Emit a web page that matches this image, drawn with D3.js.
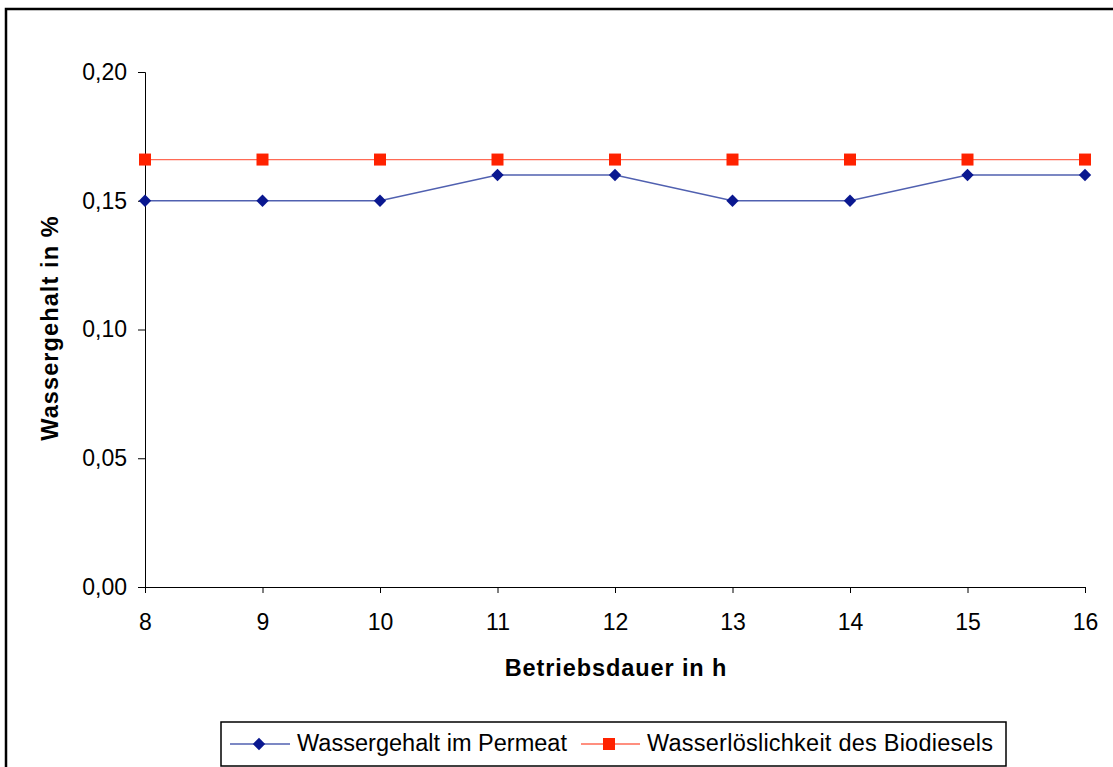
<!DOCTYPE html>
<html><head><meta charset="utf-8">
<script src="https://cdn.jsdelivr.net/npm/d3@7"></script>
<style>body{margin:0;background:#fff}svg{display:block}text{font-family:"Liberation Sans",Arial,sans-serif}</style>
</head><body><svg id="c" width="1113" height="767"></svg>
<script>
const hours = [8, 9, 10, 11, 12, 13, 14, 15, 16];
const permeat = [0.15, 0.15, 0.15, 0.16, 0.16, 0.15, 0.15, 0.16, 0.16];
const loeslichkeit = [0.166, 0.166, 0.166, 0.166, 0.166, 0.166, 0.166, 0.166, 0.166];
const yTicks = [0, 0.05, 0.10, 0.15, 0.20];
const seriesNames = ["Wassergehalt im Permeat", "Wasserlöslichkeit des Biodiesels"];

const svg = d3.select("#c");
svg.append("rect").attr("x",6).attr("y",9).attr("width",1120).attr("height",780)
  .attr("fill","#fff").attr("stroke","#000").attr("stroke-width",2.5);

const x = d3.scaleLinear().domain([8,16]).range([145,1085]);
const y = d3.scaleLinear().domain([0,0.2]).range([587,72]);

const fmt = d => d3.format(".2f")(d).replace(".", ",");
const ya = svg.append("g").attr("transform","translate(145,0)")
  .call(d3.axisLeft(y).tickValues(yTicks).tickFormat(fmt).tickSize(7).tickPadding(11));
const xa = svg.append("g").attr("transform","translate(0,587)")
  .call(d3.axisBottom(x).tickValues(hours).tickFormat(d3.format("d")).tickSize(6).tickPadding(21));
[ya,xa].forEach(a=>{
  a.select(".domain").attr("stroke","#000");
  a.selectAll(".tick line").attr("stroke","#000");
  a.selectAll("text").attr("font-size",23).attr("fill","#000").style("font-family",'"Liberation Sans",Arial,sans-serif');
});

svg.append("text").attr("x",616).attr("y",676).attr("text-anchor","middle")
  .attr("font-size",23.5).attr("font-weight","bold").attr("letter-spacing",0.9).text("Betriebsdauer in h");
svg.append("text").attr("transform","translate(58,328) rotate(-90)").attr("text-anchor","middle")
  .attr("font-size",23.5).attr("font-weight","bold").attr("letter-spacing",1.1).text("Wassergehalt in %");

const line = d3.line().x((d,i)=>x(hours[i])).y(d=>y(d));
svg.append("path").datum(loeslichkeit).attr("d",line).attr("fill","none").attr("stroke","#ff6a55").attr("stroke-width",1.3);
svg.append("path").datum(permeat).attr("d",line).attr("fill","none").attr("stroke","#5060b0").attr("stroke-width",1.3);

const diamond = d3.symbol().type(d3.symbolDiamond2).size(98);
svg.selectAll(".sq").data(loeslichkeit).join("rect")
  .attr("x",(d,i)=>x(hours[i])-6).attr("y",d=>y(d)-6).attr("width",12).attr("height",12).attr("fill","#ff2200");
svg.selectAll(".dm").data(permeat).join("path")
  .attr("d",diamond).attr("transform",(d,i)=>`translate(${x(hours[i])},${y(d)})`).attr("fill","#0a1890");

// legend
const lg = svg.append("g");
lg.append("rect").attr("x",221).attr("y",722).attr("width",785).attr("height",44).attr("fill","#fff").attr("stroke","#000").attr("stroke-width",1.5);
lg.append("line").attr("x1",230).attr("x2",290).attr("y1",744).attr("y2",744).attr("stroke","#5060b0").attr("stroke-width",1.3);
lg.append("path").attr("d",diamond).attr("transform","translate(259,744)").attr("fill","#0a1890");
lg.append("text").attr("x",297).attr("y",751).attr("font-size",23.5).attr("textLength",270).attr("lengthAdjust","spacing").text(seriesNames[0]);
lg.append("line").attr("x1",581).attr("x2",640).attr("y1",744).attr("y2",744).attr("stroke","#ff6a55").attr("stroke-width",1.3);
lg.append("rect").attr("x",603).attr("y",738).attr("width",12).attr("height",12).attr("fill","#ff2200");
lg.append("text").attr("x",647).attr("y",751).attr("font-size",23.5).attr("textLength",346).attr("lengthAdjust","spacing").text(seriesNames[1]);
</script></body></html>
